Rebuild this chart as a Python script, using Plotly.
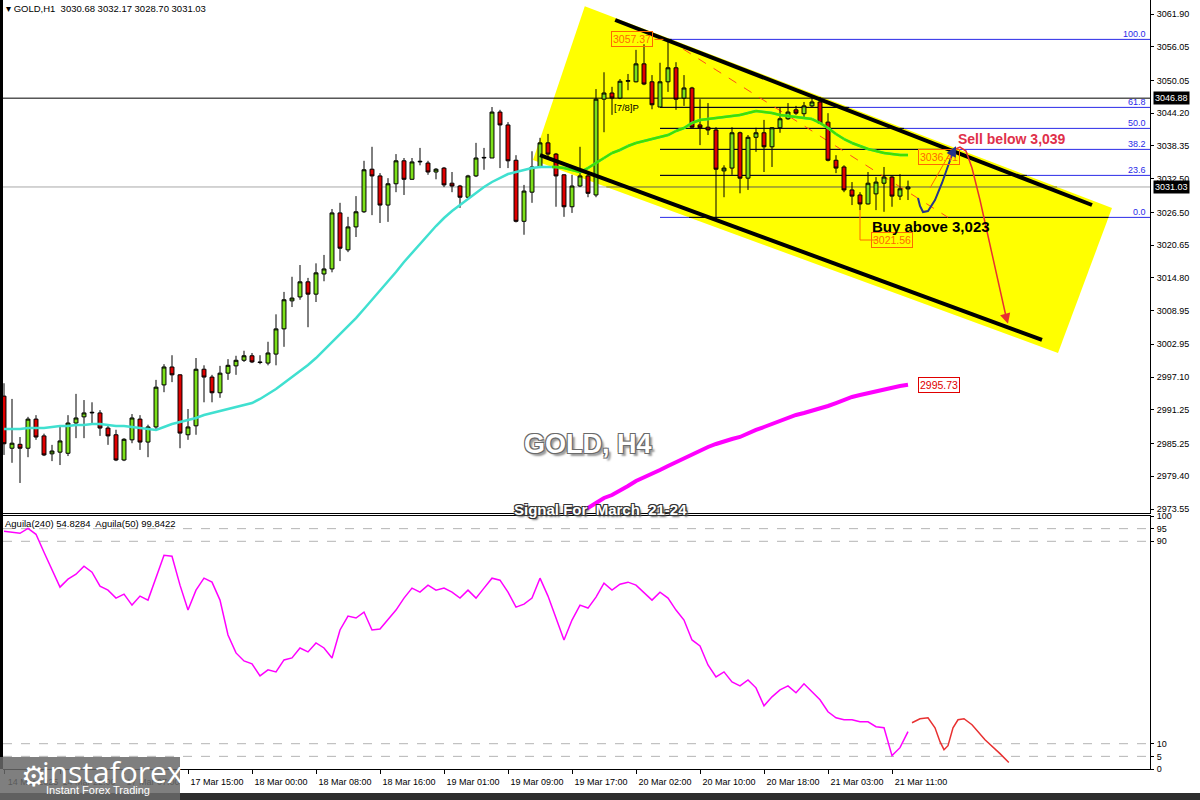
import plotly.graph_objects as go
from datetime import datetime, timedelta

# ------------------------------------------------------------------ data
OPEN = [2993.7, 2984.4, 2985.1, 2984.4, 2989.6, 2986.6, 2983.4, 2983.7, 2983.5, 2988.9,
        2990.0, 2990.7, 2990.7, 2988.0, 2986.8, 2982.3, 2985.9, 2989.6, 2985.5, 2988.2,
        2995.7, 2998.9, 2997.5, 2986.8, 2988.4, 2998.5, 2997.1, 2994.3, 2997.8, 2999.1,
        3000.1, 3000.9, 2999.8, 2999.6, 3001.2, 3005.7, 3010.7, 3011.4, 3014.1, 3011.9,
        3015.5, 3016.4, 3026.4, 3019.8, 3023.9, 3026.6, 3034.2, 3033.0, 3027.8, 3031.6,
        3035.7, 3032.4, 3035.5, 3035.3, 3033.7, 3034.4, 3031.7, 3031.2, 3029.2, 3033.0,
        3036.2, 3036.2, 3044.4, 3042.1, 3035.8, 3024.9, 3030.1, 3034.6, 3038.9, 3036.9,
        3033.2, 3027.5, 3031.2, 3033.0, 3029.6, 3046.7, 3047.8, 3046.9, 3049.9, 3049.8,
        3053.0, 3049.8, 3045.3, 3049.8, 3052.3, 3046.9, 3048.7, 3042.1, 3041.7, 3041.2,
        3033.9, 3034.4, 3040.7, 3032.6, 3039.9, 3040.7, 3038.2, 3041.6, 3043.2, 3044.8,
        3044.1, 3045.5, 3046.2, 3042.6, 3035.8, 3034.6, 3030.5, 3029.6, 3028.0, 3029.8,
        3031.7, 3032.8, 3029.4, 3030.68]
HIGH = [2996.0, 2993.2, 2986.4, 2990.0, 2990.3, 2987.0, 2985.0, 2988.4, 2990.3, 2994.1,
        2993.0, 2992.6, 2991.2, 2988.6, 2987.7, 2986.2, 2990.5, 2990.3, 2988.6, 2996.6,
        2999.4, 3001.0, 2997.6, 2991.4, 3000.5, 2999.2, 2997.5, 2999.1, 3000.3, 3000.9,
        3001.8, 3001.4, 3001.0, 3003.4, 3008.3, 3012.3, 3015.0, 3017.1, 3014.8, 3017.4,
        3018.9, 3027.1, 3028.2, 3025.7, 3029.4, 3035.7, 3038.2, 3033.5, 3032.6, 3036.9,
        3036.2, 3036.2, 3038.0, 3035.7, 3034.4, 3034.6, 3033.7, 3031.4, 3033.2, 3038.9,
        3038.0, 3045.3, 3044.8, 3042.6, 3036.7, 3031.4, 3037.4, 3039.8, 3040.5, 3037.1,
        3033.3, 3033.2, 3038.2, 3033.7, 3048.5, 3051.5, 3048.9, 3050.3, 3051.2, 3055.5,
        3056.5, 3051.0, 3053.2, 3057.37, 3053.3, 3051.0, 3048.9, 3046.7, 3046.0, 3041.7,
        3034.9, 3041.7, 3040.9, 3040.3, 3041.6, 3043.0, 3041.7, 3045.3, 3046.0, 3045.5,
        3046.2, 3046.9, 3047.1, 3044.2, 3036.7, 3034.9, 3031.9, 3030.1, 3033.7, 3032.8,
        3034.6, 3033.0, 3033.3, 3032.17]
LOW = [2983.2, 2981.8, 2978.2, 2982.8, 2985.9, 2983.0, 2982.1, 2981.4, 2983.0, 2986.2,
       2986.2, 2988.9, 2986.6, 2985.0, 2982.1, 2982.1, 2985.3, 2984.1, 2982.8, 2987.7,
       2994.4, 2996.2, 2984.4, 2985.9, 2986.8, 2992.6, 2992.6, 2993.4, 2996.6, 2997.5,
       2999.8, 2999.6, 2999.4, 2999.2, 2999.2, 3002.5, 3009.6, 3010.9, 3006.0, 3010.5,
       3014.2, 3015.8, 3017.8, 3019.4, 3022.1, 3026.4, 3026.0, 3024.6, 3024.8, 3030.1,
       3029.6, 3032.3, 3034.9, 3033.2, 3032.4, 3031.0, 3030.1, 3027.3, 3028.9, 3032.8,
       3034.1, 3036.2, 3034.4, 3034.4, 3024.7, 3022.5, 3028.2, 3034.4, 3036.4, 3027.5,
       3025.7, 3026.4, 3031.0, 3029.2, 3029.2, 3040.8, 3043.9, 3046.7, 3048.3, 3049.7,
       3049.2, 3044.9, 3045.3, 3048.0, 3044.8, 3045.5, 3041.6, 3038.5, 3040.3, 3025.1,
       3029.2, 3033.2, 3029.9, 3030.5, 3037.3, 3033.7, 3034.6, 3040.7, 3043.0, 3043.9,
       3043.5, 3045.3, 3042.3, 3035.6, 3033.5, 3030.1, 3027.8, 3026.9, 3027.9, 3026.9,
       3026.6, 3027.5, 3028.7, 3028.70]
CLOSE = [2985.2, 2985.3, 2984.4, 2989.6, 2986.4, 2983.2, 2983.9, 2985.7, 2988.9, 2989.8,
         2990.7, 2990.8, 2988.0, 2986.6, 2982.3, 2986.0, 2989.8, 2985.5, 2988.2, 2995.3,
         2998.9, 2997.5, 2987.1, 2988.2, 2998.5, 2997.1, 2994.3, 2997.8, 2999.2, 3000.1,
         3000.9, 2999.8, 2999.7, 3001.4, 3005.7, 3010.9, 3011.2, 3014.1, 3011.9, 3015.7,
         3016.4, 3026.4, 3020.1, 3023.9, 3026.6, 3034.1, 3033.0, 3027.8, 3031.6, 3035.7,
         3032.4, 3035.5, 3035.6, 3033.7, 3034.2, 3031.4, 3031.2, 3029.2, 3033.0, 3036.2,
         3036.3, 3044.4, 3042.1, 3035.7, 3024.9, 3030.3, 3034.6, 3038.9, 3036.9, 3033.0,
         3027.5, 3031.2, 3033.0, 3029.9, 3046.7, 3047.8, 3046.9, 3049.9, 3050.0, 3053.0,
         3049.4, 3045.7, 3049.8, 3052.3, 3046.7, 3048.7, 3041.7, 3041.6, 3041.2, 3034.2,
         3034.4, 3040.7, 3032.6, 3039.9, 3040.7, 3038.2, 3041.6, 3043.2, 3044.4, 3044.2,
         3045.5, 3046.2, 3042.4, 3035.8, 3034.4, 3030.5, 3029.4, 3028.0, 3031.7, 3031.9,
         3032.8, 3029.4, 3030.7, 3031.03]

MA_FAST = [2987.83, 2987.83, 2987.83, 2988.01, 2988.01, 2988.01, 2988.19, 2988.37, 2988.37, 2988.54,
           2988.54, 2988.72, 2988.72, 2988.54, 2988.37, 2988.37, 2988.19, 2988.01, 2987.83, 2987.65,
           2988.19, 2988.72, 2989.08, 2989.44, 2989.79, 2990.33, 2990.69, 2991.05, 2991.40, 2991.76,
           2992.12, 2992.47, 2993.19, 2994.08, 2994.97, 2996.04, 2997.11, 2998.18, 2999.25, 3000.50,
           3001.93, 3003.36, 3004.61, 3006.04, 3007.64, 3009.25, 3010.86, 3012.64, 3014.25, 3015.85,
           3017.64, 3019.24, 3021.03, 3022.46, 3024.06, 3025.49, 3026.74, 3027.81, 3028.88, 3029.95,
           3031.02, 3031.92, 3032.63, 3033.34, 3033.70, 3034.06, 3034.41, 3034.59, 3034.59, 3034.59,
           3034.41, 3034.06, 3033.70, 3034.41, 3035.31, 3036.20, 3037.09, 3037.63, 3038.34, 3038.88,
           3039.23, 3039.59, 3039.95, 3040.30, 3041.02, 3041.55, 3042.45, 3042.98, 3043.16, 3043.34,
           3043.52, 3043.70, 3043.87, 3044.23, 3044.59, 3044.41, 3044.23, 3043.87, 3043.70, 3043.52,
           3043.34, 3043.16, 3042.45, 3041.55, 3040.48, 3039.59, 3038.88, 3038.34, 3037.81, 3037.45,
           3037.09, 3036.91, 3036.73, 3036.73]

MA_SLOW_FIRST_BAR = 70
MA_SLOW = [2972.31, 2972.84, 2973.20, 2973.73, 2974.63, 2975.52, 2976.05, 2976.77, 2977.66, 2978.55,
           2979.27, 2979.98, 2980.52, 2981.23, 2981.94, 2982.66, 2983.37, 2984.09, 2984.62, 2985.16,
           2985.69, 2986.05, 2986.41, 2987.12, 2987.66, 2988.19, 2988.73, 2989.26, 2989.80, 2990.34,
           2990.69, 2991.05, 2991.40, 2991.94, 2992.47, 2993.01, 2993.55, 2993.90, 2994.26, 2994.61,
           2994.97, 2995.24, 2995.51, 2995.73]

AGUILA = [93.95, 93.56, 93.16, 95.13, 92.77, 85.68, 78.58, 71.88, 75.04, 77.01,
          80.16, 77.79, 72.28, 70.70, 67.55, 69.13, 64.79, 68.34, 66.76, 75.82,
          84.49, 84.10, 72.67, 62.82, 70.70, 75.43, 73.85, 66.76, 52.97, 45.88,
          42.72, 41.54, 36.81, 39.18, 38.39, 43.12, 43.90, 47.84, 46.27, 49.81,
          47.84, 43.90, 54.94, 60.45, 59.67, 62.03, 54.94, 55.33, 58.88, 62.82,
          67.55, 71.49, 69.91, 72.67, 70.70, 71.49, 69.91, 67.55, 70.70, 67.55,
          71.49, 75.43, 74.64, 69.91, 64.00, 65.18, 67.55, 75.43, 68.34, 59.67,
          51.00, 58.88, 64.79, 63.61, 67.94, 73.46, 70.70, 73.06, 73.85, 72.67,
          69.52, 66.76, 69.91, 67.55, 62.82, 58.88, 51.00, 48.63, 41.14, 36.41,
          38.39, 34.44, 32.87, 35.23, 32.08, 24.99, 28.53, 31.29, 32.87, 30.11,
          33.66, 30.50, 27.35, 22.62, 20.26, 19.47, 19.47, 18.68, 18.68, 16.71,
          16.31, 5.28, 8.43, 14.74]

LAST_BAR_TIME = datetime(2025, 3, 21, 13, 0)
X_TICK_LABELS = ["14 Mar 22:00", "17 Mar 07:00", "17 Mar 15:00", "18 Mar 00:00", "18 Mar 08:00",
                 "18 Mar 16:00", "19 Mar 01:00", "19 Mar 09:00", "19 Mar 17:00", "20 Mar 02:00",
                 "20 Mar 10:00", "20 Mar 18:00", "21 Mar 03:00", "21 Mar 11:00"]
PRICE_TICKS = [3061.90, 3056.05, 3050.05, 3044.20, 3038.35, 3032.50, 3026.50, 3020.65,
               3014.80, 3008.95, 3002.95, 2997.10, 2991.25, 2985.25, 2979.40, 2973.55]
IND_TICKS = [0, 5, 10, 90, 95, 100]
IND_LEVELS = [5, 10, 90, 95]

FIB_HIGH, FIB_LOW = 3057.37, 3025.60
FIB_RATIOS = [100.0, 61.8, 50.0, 38.2, 23.6, 0.0]
FIB_START_BAR = 82
FIB_TREND = [(83, 3057.37), (118, 3025.60)]
HLINE_PRICE = 3046.88
BID_PRICE = 3031.03
CHANNEL_UPPER = [(76.4, 3060.83), (136.0, 3027.81)]
CHANNEL_LOWER = [(67.0, 3036.73), (129.75, 3003.72)]
YELLOW_ZONE = [(66.125, 3035.84), (72.6, 3063.3), (138.5, 3027.28), (131.75, 3001.40)]

# hand-drawn forecast arrows (bar index, price / indicator value)
BLUE_ARROW = [(114.25, 3029.06), (114.5, 3027.63), (114.875, 3026.56), (115.5, 3026.74),
              (116.375, 3028.70), (117.25, 3031.74), (118.0, 3034.77), (118.625, 3037.27)]
BLUE_TIP = (119.0, 3038.3)
RED_ARROW = [(118.625, 3037.63), (119.5, 3038.16), (120.25, 3037.45), (121.0, 3034.41),
             (122.0, 3028.70), (123.25, 3020.67), (124.5, 3012.64), (125.3, 3007.6)]
RED_TIP = (125.5, 3006.6)
IND_ARROW = [(113.5, 18.29), (114.5, 19.86), (115.5, 20.26), (116.375, 16.31), (117.0, 10.80),
             (117.5, 7.64), (118.0, 9.22), (118.625, 16.31), (119.25, 19.47), (120.0, 19.86),
             (121.0, 17.50), (122.625, 11.58), (124.5, 6.07), (125.6, 2.6)]
IND_TIP = (126.0, 1.34)

# ------------------------------------------------------------------ helpers
N = len(CLOSE)
IDX = list(range(N))
XMIN, XMAX = -0.125, 143.25

times = []
t = LAST_BAR_TIME
while len(times) < N:
    if t.weekday() < 5 and t.hour != 23:
        times.append(t)
    t -= timedelta(hours=1)
times.reverse()

tickvals, ticktext = [0], [times[0].strftime("%d %b %Y")]
for lab in X_TICK_LABELS:
    for i, tm in enumerate(times):
        if tm.strftime("%d %b %H:%M") == lab:
            tickvals.append(i)
            ticktext.append(lab)


def clip_segment(p0, p1, poly):
    t0, t1 = 0.0, 1.0
    n = len(poly)
    area = sum(poly[k][0] * poly[(k + 1) % n][1] - poly[(k + 1) % n][0] * poly[k][1] for k in range(n))
    s = 1 if area > 0 else -1
    dx, dy = p1[0] - p0[0], p1[1] - p0[1]
    for k in range(n):
        ax, ay = poly[k]
        bx, by = poly[(k + 1) % n]
        ex, ey = bx - ax, by - ay
        num = s * (ex * (p0[1] - ay) - ey * (p0[0] - ax))
        den = s * (ex * dy - ey * dx)
        if den == 0:
            if num < 0:
                return None
        else:
            tt = -num / den
            if den > 0:
                t0 = max(t0, tt)
            else:
                t1 = min(t1, tt)
    return (t0, t1) if t0 < t1 else None


def inside_path(xs, ys, poly):
    ox, oy = [], []
    for k in range(len(xs) - 1):
        p0, p1 = (xs[k], ys[k]), (xs[k + 1], ys[k + 1])
        c = clip_segment(p0, p1, poly)
        if c:
            a, b = c
            ox += [p0[0] + a * (p1[0] - p0[0]), p0[0] + b * (p1[0] - p0[0]), None]
            oy += [p0[1] + a * (p1[1] - p0[1]), p0[1] + b * (p1[1] - p0[1]), None]
    return ox, oy


def line(xs, ys, color, width=1, dash=None, xa="x", ya="y"):
    return go.Scatter(x=xs, y=ys, mode="lines", xaxis=xa, yaxis=ya, hoverinfo="skip",
                      line=dict(color=color, width=width, dash=dash), showlegend=False)


shapes = []


def bg_line(x0, y0, x1, y1, color, width=1, dash=None):
    shapes.append(dict(type="line", xref="x", yref="y", x0=x0, y0=y0, x1=x1, y1=y1, layer="below",
                       line=dict(color=color, width=width, dash=dash)))


def bg_path(xs, ys, color, width=1):
    for k in range(0, len(xs), 3):
        bg_line(xs[k], ys[k], xs[k + 1], ys[k + 1], color, width)


FONT = "Liberation Sans, Arial, sans-serif"
fig = go.Figure()

# ---- background objects (drawn beneath the candles)
path = "M " + " L ".join(f"{x},{y}" for x, y in YELLOW_ZONE) + " Z"
shapes.append(dict(type="path", xref="x", yref="y", path=path, layer="below",
                   fillcolor="#FFFF00", line=dict(width=0)))
fib_prices = [FIB_LOW + r / 100.0 * (FIB_HIGH - FIB_LOW) for r in FIB_RATIOS]
for fp in fib_prices:
    bg_line(FIB_START_BAR, fp, XMAX, fp, "#2A2AE8")
    ix, iy = inside_path([FIB_START_BAR, XMAX], [fp, fp], YELLOW_ZONE)
    bg_path(ix, iy, "#000000")
bg_line(XMIN, BID_PRICE, XMAX, BID_PRICE, "#A8A8A8")
ix, iy = inside_path([XMIN, XMAX], [BID_PRICE, BID_PRICE], YELLOW_ZONE)
bg_path(ix, iy, "#8A8A00")
bg_line(XMIN, HLINE_PRICE, XMAX, HLINE_PRICE, "#000000")
bg_line(FIB_TREND[0][0], FIB_TREND[0][1], FIB_TREND[1][0], FIB_TREND[1][1], "#FF4A1A", 1, "dash")

# candles
fig.add_trace(go.Candlestick(
    x=IDX, open=OPEN, high=HIGH, low=LOW, close=CLOSE, hoverinfo="skip",
    increasing=dict(line=dict(color="#000000", width=1), fillcolor="#7CE01A"),
    decreasing=dict(line=dict(color="#000000", width=1), fillcolor="#E00000"),
    showlegend=False))

# moving averages
fig.add_trace(line(IDX, MA_FAST, "#40E0D0", 2.5))
gx, gy = inside_path(IDX, MA_FAST, YELLOW_ZONE)
fig.add_trace(line(gx, gy, "#40E000", 2.5))
slow_x = list(range(MA_SLOW_FIRST_BAR, MA_SLOW_FIRST_BAR + len(MA_SLOW)))
fig.add_trace(line(slow_x, MA_SLOW, "#FF00FF", 4))

# channel
for ch in (CHANNEL_UPPER, CHANNEL_LOWER):
    fig.add_trace(line([p[0] for p in ch], [p[1] for p in ch], "#000000", 4))

# label connectors
fig.add_trace(line([107, 107, 109.2], [LOW[107], 3021.56, 3021.56], "#FF6A00", 1))
fig.add_trace(line([81.3, 83], [3057.37, 3057.37], "#FF6A00", 1, "dash"))
fig.add_trace(line([115.75, 118.25], [3030.85, 3037.09], "#FF6A00", 1))

# forecast arrows
fig.add_trace(line([p[0] for p in BLUE_ARROW], [p[1] for p in BLUE_ARROW], "#25358A", 2))
fig.add_trace(line([p[0] for p in RED_ARROW], [p[1] for p in RED_ARROW], "#E83030", 1.5))

# indicator panel
for lv in IND_LEVELS:
    fig.add_trace(line([XMIN, XMAX], [lv, lv], "#B4B4B4", 1, "dash", "x2", "y2"))
fig.add_trace(line(IDX, AGUILA, "#FF00FF", 1.5, None, "x2", "y2"))
fig.add_trace(line([p[0] for p in IND_ARROW], [p[1] for p in IND_ARROW], "#E83030", 1.5, None, "x2", "y2"))

# ------------------------------------------------------------------ layout
L_M, R_M, T_M, B_M = 3, 50, 0, 31
W, H = 1200, 800
PH = H - T_M - B_M
PW = W - L_M - R_M


def pxp(xp):
    return (xp - L_M) / PW


def pyp(yp):
    return 1 - (yp - T_M) / PH


tickfont = dict(family=FONT, size=9, color="#000000")
fig.update_layout(
    width=W, height=H, margin=dict(l=L_M, r=R_M, t=T_M, b=B_M, autoexpand=False),
    paper_bgcolor="#FFFFFF", plot_bgcolor="#FFFFFF", showlegend=False, dragmode=False,
    xaxis=dict(domain=[0, 1], range=[XMIN, XMAX], anchor="y", showticklabels=False, showgrid=False,
               zeroline=False, showline=True, linecolor="#000000", linewidth=1, automargin=False,
               rangeslider=dict(visible=False), ticks=""),
    xaxis2=dict(domain=[0, 1], range=[XMIN, XMAX], anchor="y2", matches="x", showgrid=False,
                zeroline=False, showline=True, mirror=True, linecolor="#000000", linewidth=1,
                automargin=False, tickangle=0,
                tickvals=tickvals, ticktext=ticktext, ticks="outside", ticklen=4,
                tickcolor="#000000", tickfont=tickfont, ticklabelshift=29, ticklabelstandoff=0),
    yaxis=dict(domain=[pyp(513), 1], range=[2972.84, 3064.40], anchor="x", side="right",
               showgrid=False, zeroline=False, showline=True, linecolor="#000000", automargin=False,
               tickvals=PRICE_TICKS, ticktext=[f"{v:.2f}" for v in PRICE_TICKS],
               ticks="outside", ticklen=3, tickcolor="#000000", tickfont=tickfont,
               ticklabelstandoff=1),
    yaxis2=dict(domain=[0, pyp(516)], range=[0, 100], anchor="x2", side="right",
                showgrid=False, zeroline=False, showline=True, linecolor="#000000", automargin=False,
                tickvals=IND_TICKS, ticktext=[str(v) for v in IND_TICKS],
                ticks="outside", ticklen=3, tickcolor="#000000", tickfont=tickfont,
                ticklabelstandoff=1),
)

ann = []
ann.append(dict(xref="paper", yref="paper", x=pxp(4), y=pyp(8), xanchor="left", yanchor="middle",
                text="▾ GOLD,H1  3030.68 3032.17 3028.70 3031.03", showarrow=False,
                font=dict(family=FONT, size=9.5, color="#000000")))
ann.append(dict(xref="paper", yref="paper", x=pxp(3), y=pyp(523), xanchor="left", yanchor="middle",
                text="Aguila(240) 54.8284  Aguila(50) 99.8422", showarrow=False,
                font=dict(family=FONT, size=9.5, color="#000000")))
for r, fp in zip(FIB_RATIOS, fib_prices):
    ann.append(dict(xref="paper", yref="y", x=1, y=fp, xanchor="right", yanchor="bottom",
                    xshift=-2, yshift=-2, text=f"{r:.1f}", showarrow=False,
                    font=dict(family=FONT, size=9, color="#2A2AE8")))
for v in (HLINE_PRICE, BID_PRICE):
    ann.append(dict(xref="paper", yref="y", x=1, y=v, xanchor="left", yanchor="middle", xshift=3,
                    text=f"{v:.2f}", showarrow=False, bgcolor="#000000", borderpad=1,
                    font=dict(family=FONT, size=9, color="#FFFFFF")))
for txt, xb, val, col in (("3057.37", 78.5, 3057.37, "#FF6A00"), ("3021.56", 111.0, 3021.56, "#FF6A00"),
                          ("3036.41", 116.9, 3036.41, "#FF6A00"), ("2995.73", 116.9, 2995.73, "#E00000")):
    ann.append(dict(x=xb, y=val, xref="x", yref="y", text=txt, showarrow=False, borderpad=1,
                    bordercolor=col, borderwidth=1, font=dict(family=FONT, size=10.5, color=col)))
ann.append(dict(x=77.75, y=3045.3, xref="x", yref="y", text="[7/8]P", showarrow=False,
                font=dict(family=FONT, size=9.5, color="#000000")))
ann.append(dict(x=126.0, y=3039.6, xref="x", yref="y", text="<b>Sell below 3,039</b>", showarrow=False,
                font=dict(family=FONT, size=14, color="#E0304A")))
ann.append(dict(x=115.9, y=3023.9, xref="x", yref="y", text="<b>Buy above 3,023</b>", showarrow=False,
                font=dict(family=FONT, size=15, color="#000000")))
ann.append(dict(x=73.0, y=2985.15, xref="x", yref="y", text="<b>GOLD, H4</b>", showarrow=False,
                font=dict(family=FONT, size=27, color="#FFFFFF",
                          shadow="-1px -1px 0 #6a6a6a, 1px -1px 0 #6a6a6a, -1px 1px 0 #6a6a6a, 1px 1px 0 #6a6a6a, 3px 3px 2px #999")))
ann.append(dict(x=74.5, y=2973.55, xref="x", yref="y", text="<b>Signal For  March  21-24</b>", showarrow=False,
                font=dict(family=FONT, size=15, color="#FFFFFF",
                          shadow="-1px -1px 0 #333, 1px -1px 0 #333, -1px 1px 0 #333, 1px 1px 0 #333, 2px 2px 2px #666")))
for (tip, prev, col, xr, yr) in ((BLUE_TIP, BLUE_ARROW[-1], "#25358A", "x", "y"),
                                 (RED_TIP, RED_ARROW[-1], "#E83030", "x", "y"),
                                 (IND_TIP, IND_ARROW[-1], "#E83030", "x2", "y2")):
    ann.append(dict(x=tip[0], y=tip[1], ax=prev[0], ay=prev[1], xref=xr, yref=yr, axref=xr, ayref=yr,
                    text="", showarrow=True, arrowhead=2, arrowsize=1.3, arrowwidth=1.6, arrowcolor=col))
# logo
ann.append(dict(xref="paper", yref="paper", x=pxp(19), y=pyp(776), yanchor="middle", text="⚙",
                showarrow=False, font=dict(family="DejaVu Sans", size=28, color="#FFFFFF")))
ann.append(dict(xref="paper", yref="paper", x=pxp(40), y=pyp(771), xanchor="left", yanchor="middle",
                text="instaforex", showarrow=False,
                font=dict(family="Open Sans, Liberation Sans", size=30, color="#FFFFFF")))
ann.append(dict(xref="paper", yref="paper", x=pxp(44), y=pyp(790), xanchor="left", yanchor="middle",
                text="Instant Forex Trading", showarrow=False,
                font=dict(family=FONT, size=11, color="#FFFFFF")))
fig.update_layout(annotations=ann)

shapes += [
    dict(type="rect", xref="paper", yref="paper", x0=pxp(0), x1=pxp(3), y0=pyp(769), y1=pyp(0),
         fillcolor="#000000", line=dict(width=0)),
    dict(type="rect", xref="paper", yref="paper", x0=pxp(0), x1=pxp(1200), y0=pyp(800), y1=pyp(793),
         fillcolor="#2E2E2E", line=dict(width=0)),
    dict(type="rect", xref="paper", yref="paper", x0=pxp(0), x1=pxp(180), y0=pyp(800), y1=pyp(757),
         fillcolor="rgba(105,105,105,0.85)", line=dict(width=0), layer="above"),
]
fig.update_layout(shapes=shapes)

fig.write_html("out.html", config={"displayModeBar": False},
               post_script="document.body.style.margin='0';document.body.style.overflow='hidden';")
